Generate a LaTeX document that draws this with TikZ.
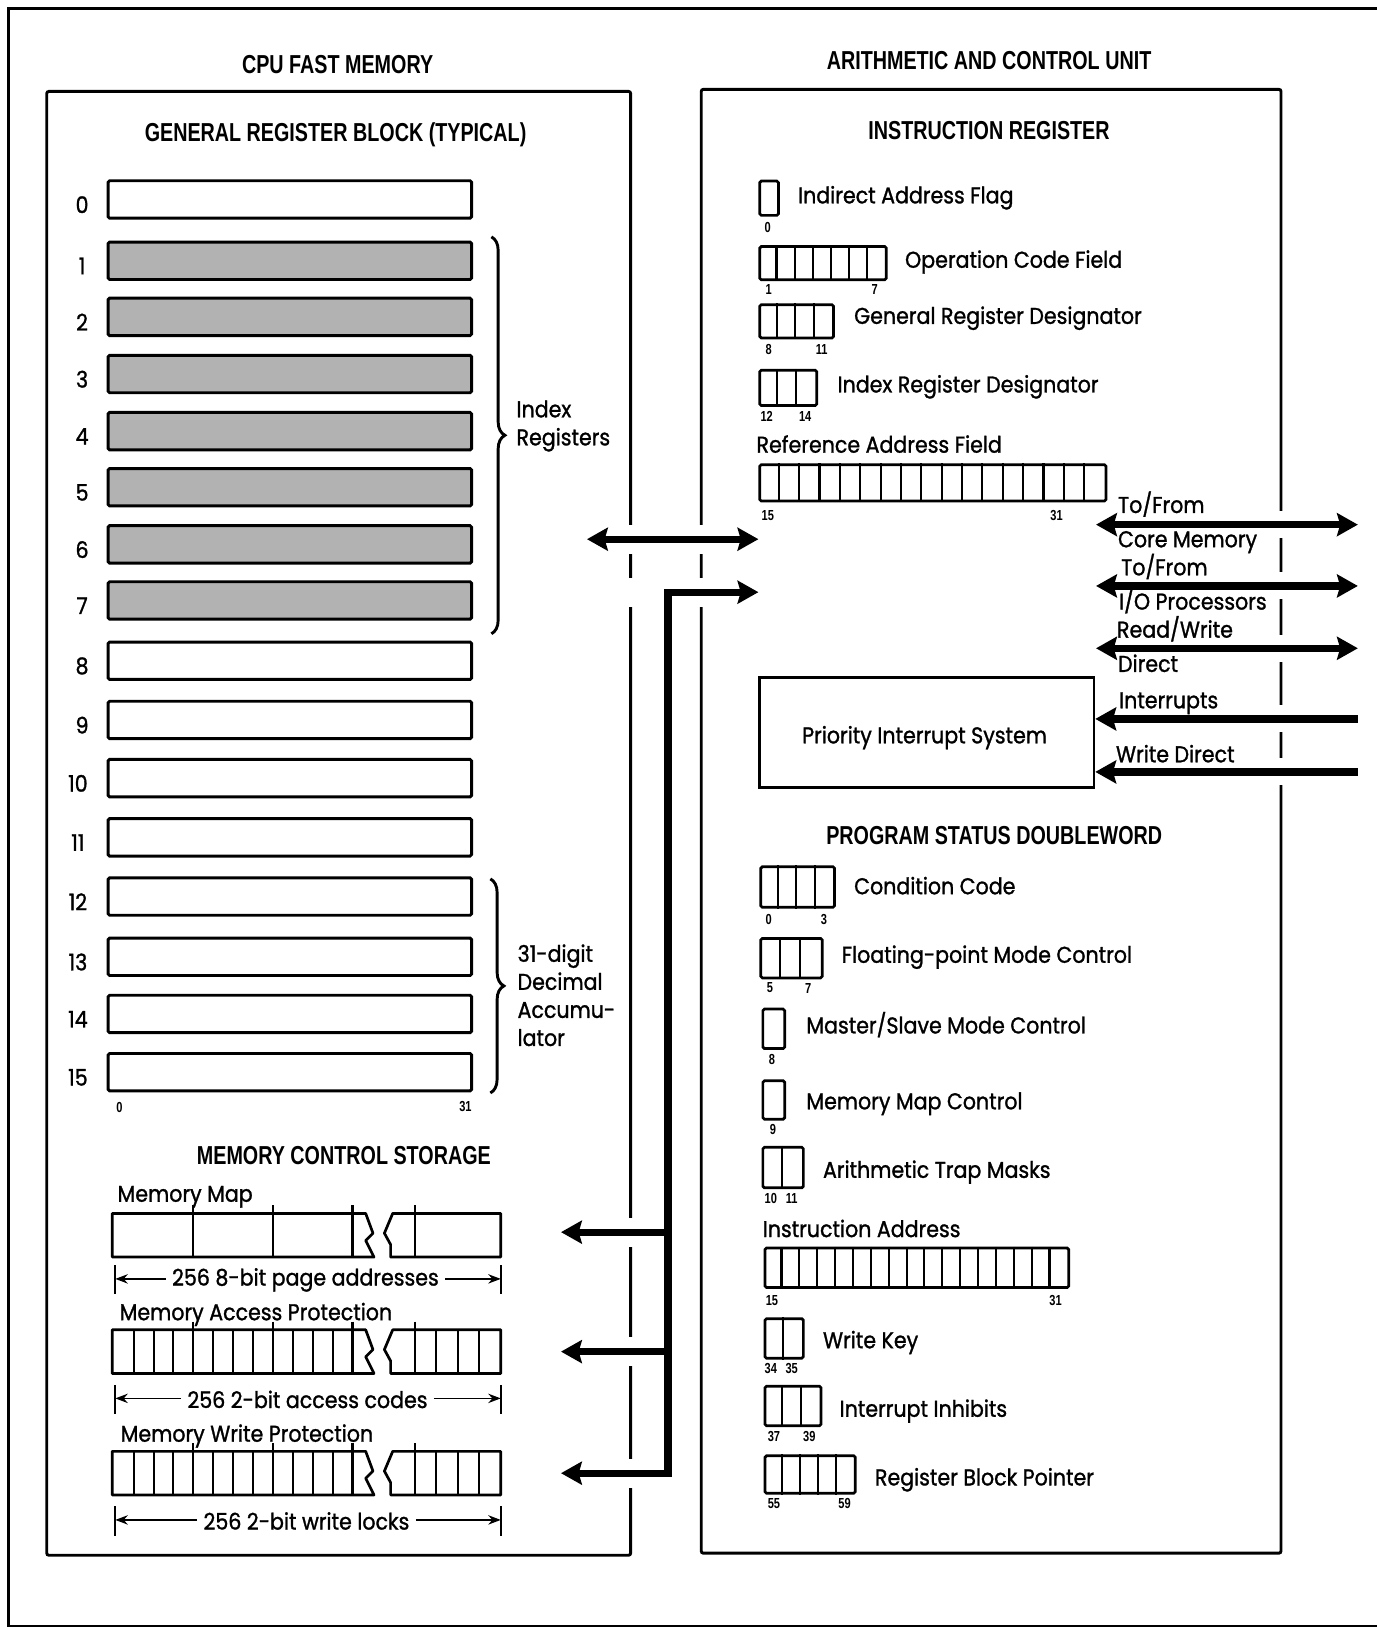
\documentclass[tikz,border=0pt]{standalone}
\usepackage{fontspec}
\setmainfont{Poppins}[FakeStretch=0.9, FakeBold=1.2]
\newfontfamily\headfont{Liberation Sans}[FakeStretch=0.76]
\usetikzlibrary{arrows.meta,positioning,calc,decorations.pathreplacing}
\tikzset{
  panel/.style={draw, line width=2.8pt, rounded corners=2pt},
  regbox/.style={draw, line width=2.8pt, rounded corners=1.5pt, minimum width=350pt, minimum height=36pt, inner sep=0pt},
  idxbox/.style={regbox, fill=black!30},
  field/.style={draw, line width=2.6pt, rounded corners=1.5pt, inner sep=0pt, anchor=north west},
  cellline/.style={line width=2pt},
  barline/.style={line width=2.6pt, line join=round},
  heading/.style={font=\headfont\bfseries\fontsize{25}{25}\selectfont, inner sep=0pt},
  ftext/.style={font=\fontsize{22}{27}\selectfont, inner sep=0pt},
  flabel/.style={ftext, anchor=mid west, yshift=-4pt},
  regnum/.style={font=\fontsize{22}{22}\selectfont, inner sep=0pt},
  bitno/.style={font=\headfont\bfseries\fontsize{14}{14}\selectfont, inner sep=0pt, yshift=-3pt},
  bus/.style={line width=7pt, {Stealth[length=20pt,width=22pt,inset=3pt]}-{Stealth[length=20pt,width=22pt,inset=3pt]}},
  busin/.style={line width=7pt, -{Stealth[length=20pt,width=22pt,inset=3pt]}},
  dimarrow/.style={line width=1.6pt, -{Stealth[length=12pt,width=9pt]}},
  regbrace/.style={line width=2.8pt, decorate, decoration={brace, amplitude=13pt}},
  gap/.style={fill=white},
}
% field of #4 cells of width #5, height #6, top left at (#2,#3)
\newcommand\bitfield[6]{%
  \node[field, minimum width=#4*#5*1pt, minimum height=#6*1pt] (#1) at (#2,#3) {};
  \ifnum#4>1
    \foreach \k in {1,...,\numexpr#4-1\relax}
      \draw[cellline] ($(#1.north west)+(\k*#5,0)$) -- ($(#1.south west)+(\k*#5,0)$);
  \fi
}
% broken bar outline, top at #1
\newcommand\brokenbar[1]{%
  \draw[barline] (108,#1) -- (352,#1) -- (359,#1+19) -- (352,#1+26) -- (360,#1+42) -- (108,#1+42) -- cycle;
  \draw[barline] (378,#1) -- (482,#1) -- (482,#1+42) -- (376,#1+42) -- (376,#1+30) -- (370,#1+19) -- cycle;
}
% broken bar with 2-bit cells
\newcommand\cellbar[1]{%
  \brokenbar{#1}
  \foreach \k in {1,...,12}
    \draw[cellline] ({109.5+19.15*\k},#1) -- ({109.5+19.15*\k},#1+42);
  \foreach \dx in {399.5,420,441,461.5}
    \draw[cellline] (\dx,#1) -- (\dx,#1+42);
  \foreach \dx in {186.1,262.7,339.3,399.5}
    \draw[cellline] (\dx,#1-8) -- (\dx,#1);
}
% dimension line under a bar
\newcommand\dimline[4]{%
  \draw[line width=1.8pt] (111,#2-13) -- (111,#2+15);
  \draw[line width=1.8pt] (482,#2-13) -- (482,#2+15);
  \node[ftext, inner xsep=6pt] (#1) at (#3,#2+1) {#4};
  \draw[dimarrow] (#1.west |- 0,#2) -- (111,#2);
  \draw[dimarrow] (#1.east |- 0,#2) -- (482,#2);
}

\begin{document}
\begin{tikzpicture}[x=1pt, y=-1pt]
  \useasboundingbox (0,0) rectangle (1325,1568);
  \draw[line width=2.4pt] (1325,8) -- (8,8) -- (8,1565) -- (1325,1565);
  \draw[panel] (45,88) rectangle (607,1497);
  \draw[panel] (675,86) rectangle (1233,1495);

  % headings
  \node[heading] (cpuhd) at (325,62) {CPU FAST MEMORY};
  \node[heading] (acuhd) at (952,58) {ARITHMETIC AND CONTROL UNIT};
  \node[heading] (grbhd) at (323,130) {GENERAL REGISTER BLOCK (TYPICAL)};
  \node[heading] (irhd) at (952,126) {INSTRUCTION REGISTER};
  \node[heading] (psdhd) at (957,804) {PROGRAM STATUS DOUBLEWORD};
  \node[heading] (mcshd) at (331,1112) {MEMORY CONTROL STORAGE};

  % general registers
  \foreach \r/\yy/\st/\nx in {0/192/regbox/79, 1/251/idxbox/79, 2/305/idxbox/79, 3/360/idxbox/79,
      4/415/idxbox/79, 5/469/idxbox/79, 6/524/idxbox/79, 7/578/idxbox/79, 8/636/regbox/79,
      9/693/regbox/79, 10/749/regbox/75, 11/806/regbox/75, 12/863/regbox/75, 13/921/regbox/75,
      14/976/regbox/75, 15/1032/regbox/75} {
    \node[\st] (reg\r) at (279,\yy) {};
    \node[regnum] (num\r) at (\nx,\yy+5) {\r};
  }
  \node[bitno] (rbit0) at (115,1063) {0};
  \node[bitno] (rbit31) at (448,1062) {31};
  \draw[regbrace] (473,228) -- (473,610);
  \node[flabel, anchor=west, align=left] (idxlbl) at (497,406) {Index\\Registers};
  \draw[regbrace] (472,846) -- (472,1052);
  \node[flabel, anchor=west, align=left] (declbl) at (498,954) {31-digit\\Decimal\\Accumu-\\lator};

  % memory control storage
  \node[flabel] (maplbl) at (113,1150) {Memory Map};
  \brokenbar{1168}
  \foreach \dx in {186.1,262.7,339.3,399.5}
    \draw[cellline] (\dx,1160) -- (\dx,1210);
  \dimline{mapdim}{1231}{294}{256 8-bit page addresses}
  \node[flabel] (acclbl) at (115,1264) {Memory Access Protection};
  \cellbar{1280}
  \dimline{accdim}{1346}{296}{256 2-bit access codes}
  \node[flabel] (wrtlbl) at (116,1381) {Memory Write Protection};
  \cellbar{1397}
  \dimline{wrtdim}{1463}{295}{256 2-bit write locks}

  % instruction register
  \bitfield{iaf}{730}{173}{1}{18}{33}
  \node[bitno] (iaf0) at (739,216) {0};
  \node[flabel] (iaflbl) at (768,189) {Indirect Address Flag};
  \bitfield{opc}{730}{236}{7}{17.4}{32}
  \node[bitno] (opc1) at (740,276) {1};
  \node[bitno] (opc7) at (842,276) {7};
  \node[flabel] (opclbl) at (871,251) {Operation Code Field};
  \bitfield{grd}{730}{292}{4}{17.75}{32}
  \node[bitno] (grd8) at (740,333) {8};
  \node[bitno] (grd11) at (791,333) {11};
  \node[flabel] (grdlbl) at (822,305) {General Register Designator};
  \bitfield{ird}{730}{355}{3}{18.3}{34}
  \node[bitno] (ird12) at (738,398) {12};
  \node[bitno] (ird14) at (775,398) {14};
  \node[flabel] (irdlbl) at (806,371) {Index Register Designator};
  \node[flabel] (raflbl) at (728,429) {Reference Address Field};
  \bitfield{raf}{730}{446}{17}{19.6}{35}
  \node[bitno] (raf15) at (739,493) {15};
  \node[bitno] (raf31) at (1017,493) {31};

  \node[draw, line width=2.6pt, minimum width=322pt, minimum height=106pt] (pis) at (892,705) {};
  \node[ftext] (pistxt) at (890,710) {Priority Interrupt System};

  % program status doubleword
  \bitfield{cc}{731}{833}{4}{17.75}{39}
  \node[bitno] (cc0) at (740,882) {0};
  \node[bitno] (cc3) at (793,882) {3};
  \node[flabel] (cclbl) at (822,854) {Condition Code};
  \bitfield{fpm}{731}{902}{3}{19.7}{38}
  \node[bitno] (fpm5) at (741,948) {5};
  \node[bitno] (fpm7) at (778,948) {7};
  \node[flabel] (fpmlbl) at (810,920) {Floating-point Mode Control};
  \bitfield{msm}{733}{970}{1}{21}{38}
  \node[bitno] (msm8) at (743,1017) {8};
  \node[flabel] (msmlbl) at (776,988) {Master/Slave Mode Control};
  \bitfield{mmc}{733}{1039}{1}{21}{37}
  \node[bitno] (mmc9) at (744,1084) {9};
  \node[flabel] (mmclbl) at (776,1061) {Memory Map Control};
  \bitfield{atm}{733}{1103}{2}{19.5}{39}
  \node[bitno] (atm10) at (742,1151) {10};
  \node[bitno] (atm11) at (762,1151) {11};
  \node[flabel] (atmlbl) at (792,1127) {Arithmetic Trap Masks};
  \node[flabel] (ialbl) at (734,1184) {Instruction Address};
  \bitfield{ia}{735}{1200}{17}{17.2}{38}
  \node[bitno] (ia15) at (743,1249) {15};
  \node[bitno] (ia31) at (1016,1249) {31};
  \bitfield{wk}{735}{1268}{2}{18.5}{38}
  \node[bitno] (wk34) at (742,1314) {34};
  \node[bitno] (wk35) at (762,1314) {35};
  \node[flabel] (wklbl) at (792,1291) {Write Key};
  \bitfield{ii}{735}{1333}{3}{18}{38}
  \node[bitno] (ii37) at (745,1380) {37};
  \node[bitno] (ii39) at (779,1380) {39};
  \node[flabel] (iilbl) at (808,1357) {Interrupt Inhibits};
  \bitfield{rbp}{735}{1400}{5}{17.4}{36}
  \node[bitno] (rbp55) at (745,1444) {55};
  \node[bitno] (rbp59) at (813,1444) {59};
  \node[flabel] (rbplbl) at (842,1423) {Register Block Pointer};

  % gaps in the panel edges where buses cross
  \foreach \yy in {519,570,1186,1301,1418}
    \fill[gap] (600,\yy-14) rectangle (614,\yy+14);
  \foreach \yy in {519,570}
    \fill[gap] (668,\yy-14) rectangle (682,\yy+14);
  \foreach \yy in {505,564,624,692,743}
    \fill[gap] (1226,\yy-13) rectangle (1240,\yy+13);

  % buses between the units
  \coordinate (lbusl) at (565,519);
  \coordinate (lbusr) at (730,519);
  \draw[bus] (lbusl) -- (lbusr);
  \coordinate (busend) at (730,570);
  \coordinate (bustop) at (643,570);
  \coordinate (busbot) at (643,1418);
  \coordinate (wrttip) at (540,1418);
  \coordinate (acctip) at (540,1301);
  \coordinate (maptip) at (540,1186);
  \draw[bus] (busend) -- (bustop) -- (busbot) -- (wrttip);
  \draw[busin] (bustop |- acctip) -- (acctip);
  \draw[busin] (bustop |- maptip) -- (maptip);

  % external lines
  \coordinate (corel) at (1055,505);
  \coordinate (corer) at (1307,505);
  \draw[bus] (corel) -- (corer);
  \coordinate (iopl) at (1055,564);
  \coordinate (iopr) at (1307,564);
  \draw[bus] (iopl) -- (iopr);
  \coordinate (rwdl) at (1055,624);
  \coordinate (rwdr) at (1307,624);
  \draw[bus] (rwdl) -- (rwdr);
  \coordinate (intsrc) at (1307,692);
  \draw[busin] (intsrc) -- (pis.east |- intsrc);
  \coordinate (wdsrc) at (1307,743);
  \draw[busin] (wdsrc) -- (pis.east |- wdsrc);
  \node[flabel] (core1) at (1076,487) {To/From};
  \node[flabel] (core2) at (1076,520) {Core Memory};
  \node[flabel] (iop1) at (1079,547) {To/From};
  \node[flabel] (iop2) at (1077,580) {I/O Processors};
  \node[flabel] (rwd1) at (1075,607) {Read/Write};
  \node[flabel] (rwd2) at (1076,640) {Direct};
  \node[flabel] (intlbl) at (1077,675) {Interrupts};
  \node[flabel] (wdlbl) at (1074,727) {Write Direct};
\end{tikzpicture}
\end{document}
